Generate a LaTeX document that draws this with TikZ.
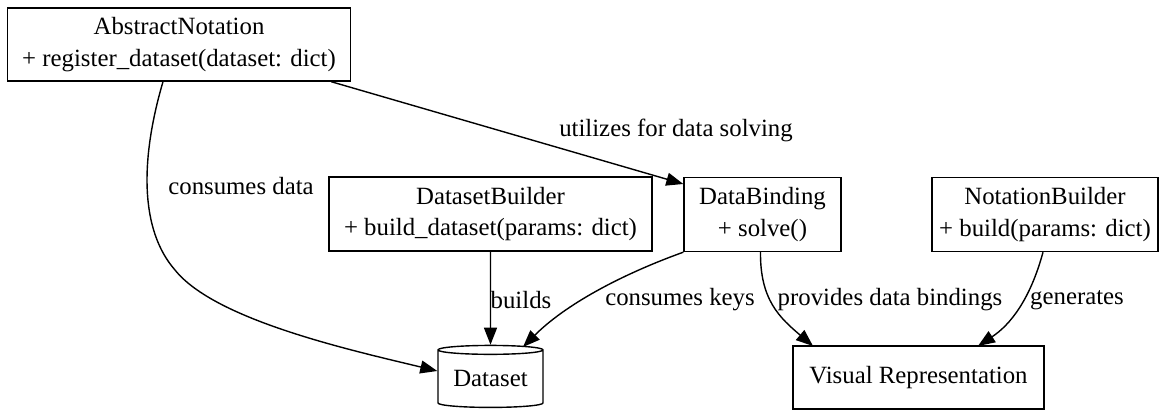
\documentclass[tikz,border=0pt]{standalone}
\usepackage{fontspec}
\setmainfont{Liberation Serif}
\usetikzlibrary{shapes.geometric,arrows.meta}
\begin{document}
\begin{tikzpicture}[x=1pt,y=-1pt,
  every node/.style={font=\fontsize{24.8}{31.5}\selectfont},
  cls/.style={draw,line width=1.4pt,rectangle,align=center,inner sep=0pt},
  lbl/.style={inner sep=0pt,anchor=center},
  arr/.style={line width=1.4pt,-{Triangle[length=17pt,width=13pt]}},
  line width=1.4pt]
\useasboundingbox (0,0) rectangle (1164,411);
\node[cls,minimum width=343pt,minimum height=73pt] (an) at (179,44.5) {AbstractNotation\\+ register\_dataset(dataset: dict)};
\node[cls,minimum width=323pt,minimum height=74pt] (dsb) at (490.5,214) {DatasetBuilder\\+ build\_dataset(params: dict)};
\node[cls,minimum width=157pt,minimum height=74pt] (dbind) at (762.5,214.5) {DataBinding\\+ solve()};
\node[cls,minimum width=226pt,minimum height=74pt] (nb) at (1045,214.5) {NotationBuilder\\+ build(params: dict)};
\node[draw,line width=1.4pt,cylinder,shape border rotate=90,aspect=0.12,minimum width=105pt,minimum height=62pt,inner sep=0pt] (ds) at (490.5,379) {Dataset};
\node[cls,minimum width=251pt,minimum height=63pt] (vr) at (918.5,377.5) {Visual Representation};
% edges
\draw[arr] (an.south) ++(-16,0) coordinate (s1)
  (s1) .. controls (140,160) and (140,230) .. (175,270) .. controls (215,320) and (350,350) .. (ds.west |- 0,371);
\draw[arr] (an.south east) ++(-20,0) coordinate (s2) (s2) -- (dbind.north west |- 0,184);
\draw[arr] (dsb.south) -- (ds.north);
\draw[arr] (dbind.south west) .. controls (620,275) and (565,305) .. (523,347);
\draw[arr] (dbind.south) ++(-2,0) coordinate (s5) (s5) .. controls (760,300) and (780,318) .. (813,346);
\draw[arr] (nb.south) ++(-2,0) coordinate (s6) (s6) .. controls (1030,300) and (1010,325) .. (978,346);
% labels
\node[lbl] (l1) at (241,186) {consumes data};
\node[lbl] (l2) at (676,130) {utilizes for data solving};
\node[lbl] (l3) at (521,300) {builds};
\node[lbl] (l4) at (680,300) {consumes keys};
\node[lbl] (l5) at (890,300) {provides data bindings};
\node[lbl] (l6) at (1077,300) {generates};
\end{tikzpicture}
\end{document}
